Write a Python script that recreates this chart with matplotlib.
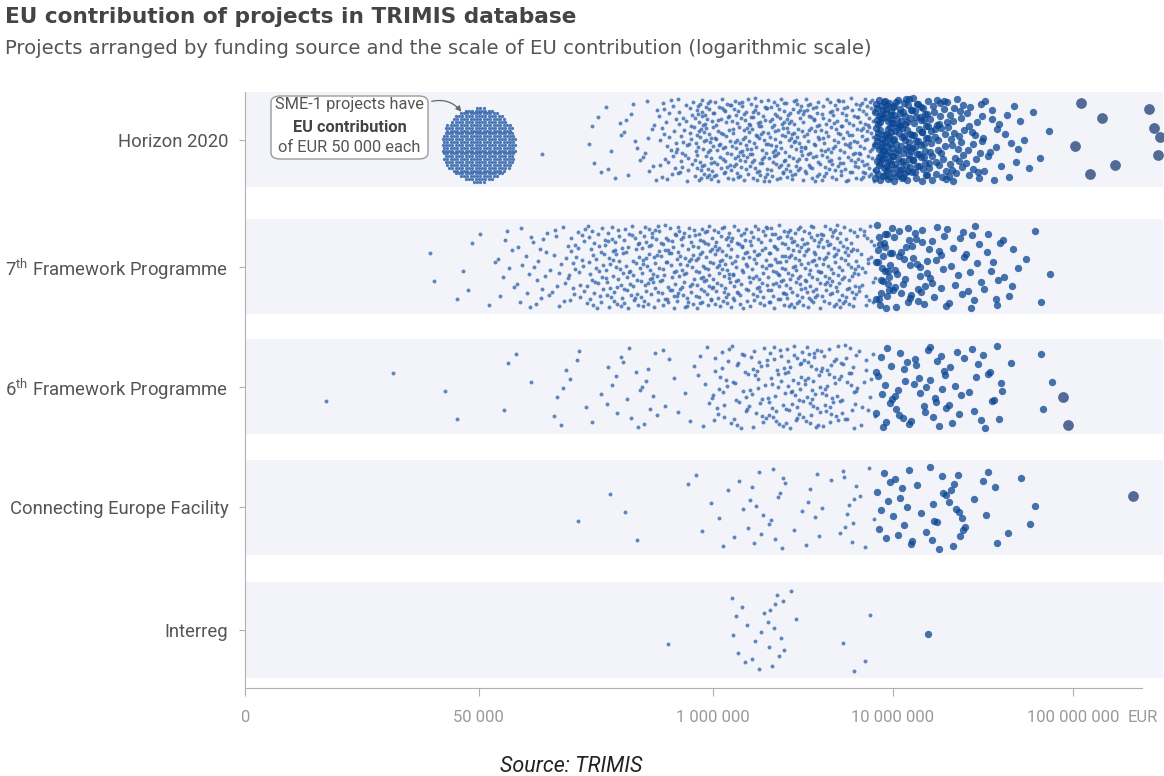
import numpy as np
import matplotlib
matplotlib.use("Agg")
import matplotlib.pyplot as plt
from matplotlib.patches import FancyBboxPatch

# ---------------- data ----------------
programmes = ["Horizon 2020", "7th Framework Programme", "6th Framework Programme",
              "Connecting Europe Facility", "Interreg"]
programme_labels = ["Horizon 2020", r"7$^{\mathrm{th}}$ Framework Programme",
                    r"6$^{\mathrm{th}}$ Framework Programme",
                    "Connecting Europe Facility", "Interreg"]

# histogram of EU contribution: bin i covers log10(EUR) in [3.4 + 0.1 i, 3.5 + 0.1 i)
bin_log_start = 3.4
bin_log_width = 0.1

h2020_counts = {16: 1, 19: 5, 20: 6, 21: 8, 22: 10, 23: 25, 24: 30, 25: 55, 26: 45, 27: 50,
                28: 50, 29: 50, 30: 50, 31: 45, 32: 45, 33: 45, 34: 50, 35: 75, 36: 60,
                37: 48, 38: 32, 39: 25, 40: 18, 41: 12, 42: 7, 43: 4, 44: 2, 46: 3, 47: 1,
                48: 1, 50: 4}
fp7_counts = {10: 2, 11: 1, 12: 3, 13: 3, 14: 8, 15: 10, 16: 14, 17: 14, 18: 22, 19: 30,
              20: 35, 21: 35, 22: 40, 23: 40, 24: 40, 25: 45, 26: 45, 27: 40, 28: 40,
              29: 45, 30: 45, 31: 45, 32: 45, 33: 40, 34: 25, 35: 30, 36: 18, 37: 18,
              38: 12, 39: 10, 40: 10, 41: 9, 42: 6, 43: 2, 44: 2}
fp6_counts = {4: 1, 8: 1, 11: 2, 14: 2, 15: 2, 17: 5, 18: 4, 19: 2, 20: 6, 21: 7, 22: 8,
              23: 4, 24: 4, 25: 7, 26: 18, 27: 18, 28: 22, 29: 25, 30: 30, 31: 30, 32: 28,
              33: 22, 34: 12, 35: 12, 36: 10, 37: 10, 38: 12, 39: 8, 40: 6, 41: 9, 42: 2,
              44: 3, 45: 2}
cef_counts = {18: 1, 20: 1, 21: 2, 24: 1, 25: 3, 26: 3, 27: 4, 28: 7, 29: 8, 30: 3, 31: 6,
              32: 2, 33: 10, 34: 4, 35: 7, 36: 9, 37: 4, 38: 9, 39: 10, 40: 3, 41: 4,
              42: 1, 43: 3, 49: 1}
interreg_counts = {23: 1, 27: 7, 28: 5, 29: 11, 30: 2, 33: 2, 34: 2, 37: 1}

sme1_value = 50000
sme1_count = 470

x_tick_values = [10 ** 3.4, 5e4, 1e6, 1e7, 1e8]
x_tick_labels = ["0", "50 000", "1 000 000", "10 000 000", "100 000 000"]

# ---------------- style ----------------
FONT = ["Roboto", "DejaVu Sans"]
plt.rcParams["font.family"] = FONT
plt.rcParams["mathtext.fontset"] = "custom"
plt.rcParams["mathtext.rm"] = "Roboto"
plt.rcParams["mathtext.it"] = "Roboto:italic"
plt.rcParams["mathtext.bf"] = "Roboto:bold"

W, H = 1164, 776
fig = plt.figure(figsize=(W / 100, H / 100), dpi=100)
fig.patch.set_facecolor("white")

def fx(px):
    return px / W

def fy(py):
    return 1 - py / H

ax_left, ax_right, ax_top, ax_bottom = 245, 1163, 92, 688
ax = fig.add_axes([fx(ax_left), fy(ax_bottom), fx(ax_right - ax_left), (ax_bottom - ax_top) / H])
ax.set_facecolor("white")
ax.set_xscale("log")
ax.set_xlim(10 ** 3.4, 10 ** 8.5)
ax.set_ylim(-0.473, 4.39)

row_pos = [4.0, 2.965, 1.986, 1.0, 0.0]
row_y = {name: p for name, p in zip(programmes, row_pos)}
band_half = 0.388
for name in programmes:
    y = row_y[name]
    ax.axhspan(y - band_half, y + band_half, color="#f2f4f9", zorder=0, lw=0)

def vdc(k, base):
    f, r = 1.0, 0.0
    while k > 0:
        f /= base
        r += f * (k % base)
        k //= base
    return r

small_c, medium_c, large_c = "#3a6aae", "#0a4593", "#4a6391"
jitter = 0.34

all_counts = [h2020_counts, fp7_counts, fp6_counts, cef_counts, interreg_counts]
for name, counts in zip(programmes, all_counts):
    xs, ys = [], []
    k = 1
    for b in sorted(counts):
        n = counts[b]
        for _ in range(n):
            lv = bin_log_start + bin_log_width * (b + vdc(k, 2))
            xs.append(10 ** lv)
            ys.append(row_y[name] + (vdc(k, 3) - 0.5) * 2 * jitter)
            k += 1
    xs = np.array(xs)
    ys = np.array(ys)
    lg = np.log10(xs)
    sm = lg < 6.9
    md = (lg >= 6.9) & (lg < 7.9)
    lgm = lg >= 7.9
    ax.scatter(xs[sm], ys[sm], s=8, color=small_c, alpha=0.8, lw=0, zorder=3)
    ax.scatter(xs[md], ys[md], s=28, color=medium_c, alpha=0.75, lw=0, zorder=4)
    ax.scatter(xs[lgm], ys[lgm], s=60, color=large_c, alpha=0.95, lw=0, zorder=5)

# SME-1 packed cluster at EUR 50 000 (hexagonal packing in display space)
d = 3.3
pts = []
for j in range(-15, 16):
    for i in range(-15, 16):
        px = (i + 0.5 * (j % 2)) * d
        py = j * d * np.sqrt(3) / 2
        pts.append((px, py))
pts = np.array(pts)
order = np.argsort(np.hypot(pts[:, 0], pts[:, 1]))
pts = pts[order[:sme1_count]]
center = ax.transData.transform((sme1_value, row_y["Horizon 2020"] - 5 / 122.5))
disp = center + pts
data_pts = ax.transData.inverted().transform(disp)
ax.scatter(data_pts[:, 0], data_pts[:, 1], s=5.5, color=small_c, alpha=0.9, lw=0, zorder=3)

# axes styling
for s in ["top", "right"]:
    ax.spines[s].set_visible(False)
ax.spines["left"].set_color("#b0b0b0")
ax.spines["bottom"].set_color("#b0b0b0")
ax.spines["bottom"].set_bounds(10 ** 3.4, 10 ** 8.385)
ax.set_xticks(x_tick_values)
ax.set_xticklabels(x_tick_labels)
ax.xaxis.set_minor_locator(matplotlib.ticker.NullLocator())
ax.tick_params(axis="x", colors="#b0b0b0", labelcolor="#9a9a9a", labelsize=12, length=6, pad=10)
ax.set_yticks([row_y[n] for n in programmes])
ax.set_yticklabels(programme_labels)
ax.tick_params(axis="y", colors="#b0b0b0", labelcolor="#555555", labelsize=13.3, length=4, pad=8)

fig.text(fx(1143), fy(718), "EUR", ha="center", va="center", fontsize=12, color="#9a9a9a")

# annotation box
box = FancyBboxPatch((fx(271), fy(159)), fx(428 - 271), (159 - 96) / H,
                     boxstyle="round,pad=0,rounding_size=0.008", transform=fig.transFigure,
                     facecolor="white", edgecolor="#9a9a9a", lw=1, zorder=10)
fig.patches.append(box)
fig.text(fx(349.5), fy(105), "SME-1 projects have", ha="center", va="center",
         fontsize=11.8, color="#555555", zorder=11)
fig.text(fx(349.5), fy(127), "EU contribution", ha="center", va="center",
         fontsize=11.8, color="#444444", fontweight="bold", zorder=11)
fig.text(fx(349.5), fy(148), "of EUR 50 000 each", ha="center", va="center",
         fontsize=11.8, color="#555555", zorder=11)
ax.annotate("", xy=(fx(463), fy(114)), xycoords="figure fraction",
            xytext=(fx(429), fy(102)), textcoords="figure fraction",
            arrowprops=dict(arrowstyle="-|>", color="#666666", lw=0.9,
                            connectionstyle="arc3,rad=-0.35", mutation_scale=8),
            zorder=12)

# titles
fig.text(fx(5), fy(17), "EU contribution of projects in TRIMIS database", ha="left",
         va="center", fontsize=15.6, fontweight="bold", color="#444444",
         family=["DejaVu Sans"])
fig.text(fx(5), fy(48), "Projects arranged by funding source and the scale of EU contribution (logarithmic scale)",
         ha="left", va="center", fontsize=14.1, color="#555555", family=["DejaVu Sans"])
fig.text(fx(571), fy(766), "Source: TRIMIS", ha="center", va="center", fontsize=15.5,
         style="italic", color="#222222")

fig.savefig("out.png", dpi=100)
